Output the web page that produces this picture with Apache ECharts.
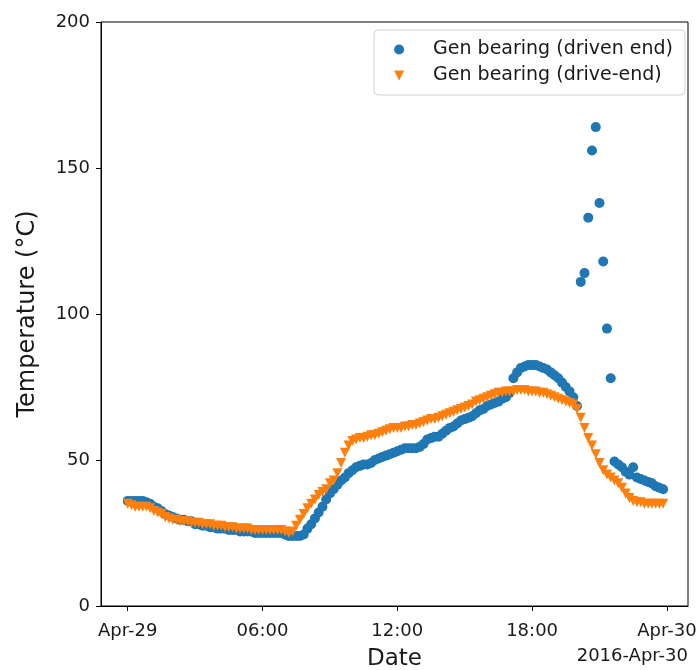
<!DOCTYPE html>
<html>
<head>
<meta charset="utf-8">
<script src="https://cdn.jsdelivr.net/npm/echarts@6/dist/echarts.min.js"></script>
<style>
  html, body { margin: 0; padding: 0; background: #fff; }
  #chart { width: 697px; height: 670px; }
</style>
</head>
<body>
<div id="chart"></div>
<script>
// 10-minute samples, 2016-04-29 00:00 .. 23:50 (hours since midnight on the x axis)
var stepHours = 1 / 6;
var tickHours = [0, 6, 12, 18, 24];
var tickLabels = ['Apr-29', '06:00', '12:00', '18:00', 'Apr-30'];
var seriesNames = ['Gen bearing (driven end)', 'Gen bearing (drive-end)'];

var drivenEnd = [
  36, 36, 36, 36, 36, 35.5,
  35, 34, 33.5, 32.5, 31.5, 31,
  30.5, 30, 29.5, 29.5, 29, 29,
  28, 28, 27.5, 27.5, 27, 27,
  26.5, 26.5, 26.5, 26, 26, 26,
  25.5, 25.5, 25.5, 25.5, 25, 25,
  25, 25, 25, 25, 25, 25,
  24.5, 24, 24, 24, 24, 24.5,
  26.5, 28, 30, 32, 34, 36.5,
  38.5, 40, 41.5, 43, 44, 45.5,
  46.5, 47.5, 48, 48.5, 48.5, 49,
  50, 50.5, 51, 51.5, 52, 52.5,
  53, 53.5, 54, 54, 54, 54,
  54.5, 55.5, 57, 57.5, 58, 58,
  59, 60, 61, 61.5, 62.5, 63.5,
  64, 64.5, 65, 66, 67, 67.5,
  68.5, 69, 69.5, 70, 71, 71.5,
  73, 78, 80, 81.5, 82, 82.5,
  82.5, 82.5, 82, 81.5, 81, 80,
  79, 78, 76.5, 75, 73.5, 71.5,
  68.5,
  111, 114, 133, 156, 164, 138, 118, 95, 78,
  49.5, 48.5, 47.5, 46, 45, 47.5, 44, 43.5, 43, 42.5, 42, 41, 40.5, 40
];

var driveEnd = [
  35, 34.5, 34, 34, 34, 34,
  33.5, 32.5, 32, 31.5, 30.5, 30,
  29.5, 29.5, 29, 29, 29, 28.5,
  28.5, 28.5, 28, 28, 28, 27.5,
  27.5, 27.5, 27, 27, 27, 26.5,
  26.5, 26.5, 26.5, 26, 26, 26,
  26, 26, 26, 26, 26, 26,
  25.5, 25, 25.5, 27.5, 29.5, 31.5,
  33.5, 35, 36.5, 38, 39, 40,
  42, 43, 45.5, 49, 52.5, 55,
  56.5, 57, 57.5, 57.5, 58, 58.5,
  58.5, 59, 59.5, 60, 60.5, 61,
  61, 61, 61.5, 61.5, 62, 62,
  62.5, 63, 63.5, 64, 64, 64.5,
  65, 65.5, 66, 66.5, 67, 67.5,
  68, 68.5, 69, 70, 70.5, 71,
  71.5, 72, 72.5, 73, 73, 73.5,
  73.5, 73.5, 74, 74, 74, 73.5,
  73.5, 73.5, 73, 73, 72.5, 72,
  71.5, 71, 70.5, 70, 69.5, 69,
  67.5,
  64.5, 61, 57.5, 55, 52, 49, 46.5, 45, 44,
  43, 42, 40.5, 38.5, 37, 36, 35.5, 35.5, 35, 35, 35, 35, 35, 35
];

function toPoints(vals) {
  return vals.map(function (v, i) { return [i * stepHours, v]; });
}

var font = 'DejaVu Sans';
var triDown = 'path://M0,0L2,0L1,2Z';

var chart = echarts.init(document.getElementById('chart'), null, { renderer: 'canvas' });
var option = {
  animation: false,
  backgroundColor: '#fff',
  grid: {
    left: 101, right: 9, top: 22, bottom: 64,
    outerBoundsMode: 'none',
    containLabel: false,
    show: true, borderColor: '#000', borderWidth: 1, backgroundColor: 'transparent'
  },
  legend: {
    orient: 'vertical',
    right: 12, top: 30,
    backgroundColor: '#fff',
    borderColor: '#d0d0d0', borderWidth: 1, borderRadius: 4,
    padding: [10, 12, 10, 20],
    itemGap: 7,
    itemWidth: 30, itemHeight: 10,
    textStyle: { fontFamily: font, fontSize: 19, color: '#1a1a1a', padding: [0, 0, 0, 14] },
    data: [
      { name: seriesNames[0], icon: 'circle' },
      { name: seriesNames[1], icon: triDown }
    ]
  },
  xAxis: {
    type: 'value',
    min: -1.19, max: 24.94,
    name: 'Date',
    nameLocation: 'middle',
    nameGap: 42,
    nameTextStyle: { fontFamily: font, fontSize: 23, color: '#1a1a1a' },
    axisLine: { show: true, onZero: false, lineStyle: { color: '#000', width: 1 } },
    axisTick: { show: true, inside: false, length: 5, customValues: tickHours, lineStyle: { color: '#000' } },
    axisLabel: {
      customValues: tickHours,
      margin: 16,
      fontFamily: font, fontSize: 18, color: '#1a1a1a',
      formatter: function (v) {
        var i = tickHours.indexOf(Math.round(v));
        return i >= 0 ? tickLabels[i] : '';
      }
    },
    splitLine: { show: false }
  },
  yAxis: {
    type: 'value',
    min: 0, max: 200, interval: 50,
    name: 'Temperature (°C)',
    nameLocation: 'middle',
    nameGap: 61,
    nameTextStyle: { fontFamily: font, fontSize: 24, color: '#1a1a1a' },
    axisLine: { show: true, onZero: false, lineStyle: { color: '#000', width: 1 } },
    axisTick: { show: true, inside: false, length: 5, lineStyle: { color: '#000' } },
    axisLabel: { margin: 11, fontFamily: font, fontSize: 18, color: '#1a1a1a' },
    splitLine: { show: false }
  },
  graphic: [{
    type: 'text',
    right: 9, top: 647,
    style: { text: '2016-Apr-30', fontFamily: font, fontSize: 18, fill: '#1a1a1a' }
  }],
  series: [
    {
      name: seriesNames[0],
      type: 'scatter',
      symbol: 'circle',
      symbolSize: 10,
      itemStyle: { color: '#1f77b4', opacity: 1 },
      data: toPoints(drivenEnd)
    },
    {
      name: seriesNames[1],
      type: 'scatter',
      symbol: triDown,
      symbolSize: 10,
      itemStyle: { color: '#ff7f0e', opacity: 1 },
      data: toPoints(driveEnd)
    }
  ]
};
chart.setOption(option);
</script>
</body>
</html>
